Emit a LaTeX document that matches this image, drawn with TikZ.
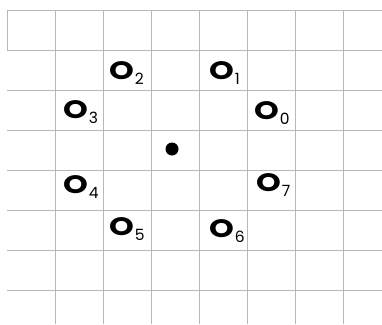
\documentclass[tikz,border=0pt]{standalone}
\usepackage{fontspec}
\setmainfont{Poppins}
\newcommand{\osub}[1]{\scalebox{1.05}[0.84]{\textbf{O}}\kern1pt\raisebox{-5.5pt}{\fontsize{15.5}{15.5}\selectfont #1}}
\begin{document}
\begin{tikzpicture}[x=1pt,y=-1pt,
  gridline/.style={draw=black!28,line width=0.8pt},
  lab/.style={anchor=base west,inner sep=0pt,font=\fontsize{30}{30}\selectfont}]
\useasboundingbox (0,0) rectangle (382,324);
\foreach \y in {10,50,...,290} \draw[gridline] (7,\y) -- (382,\y);
\foreach \x in {55,103,...,343} \draw[gridline] (\x,10) -- (\x,324);
\draw[gridline] (7,10) -- (7,50);
\fill (172,149) circle (6.5);
\node[lab] (o2) at (109,79) {\osub{2}};
\node[lab] (o1) at (209,79) {\osub{1}};
\node[lab] (o3) at (63,118) {\osub{3}};
\node[lab] (o0) at (254,119) {\osub{0}};
\node[lab] (o4) at (63,193) {\osub{4}};
\node[lab] (o7) at (256,191) {\osub{7}};
\node[lab] (o5) at (109,235) {\osub{5}};
\node[lab] (o6) at (209,237) {\osub{6}};
\end{tikzpicture}
\end{document}
